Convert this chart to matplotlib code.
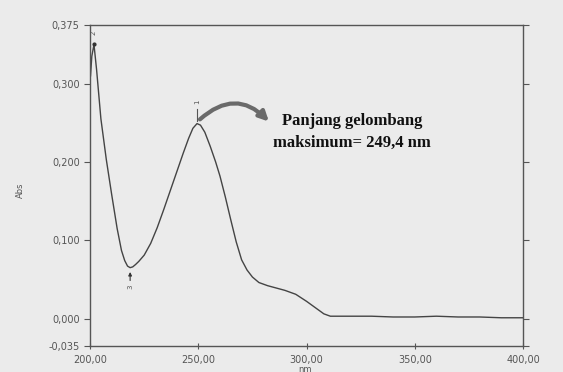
import matplotlib
matplotlib.use("Agg")
import matplotlib.pyplot as plt

# spectrum (nm, Abs)
wavelength = [200.2, 200.8, 201.8, 203, 205, 207.5, 210, 212.5, 214.5, 216, 217.3, 218.5,
              219.7, 221, 222.5, 225, 228, 231, 234, 237, 240, 243, 245.5, 247.5, 249.4,
              251, 253, 255.5, 258, 260, 262.5, 265, 267.5, 270, 272.5, 275,
              278, 282, 286, 290, 295, 300, 303, 305, 308, 311, 315, 320, 330, 340,
              350, 360, 370, 380, 390, 400]
absorb = [0.310, 0.335, 0.350, 0.318, 0.255, 0.203, 0.158, 0.115, 0.087, 0.074, 0.067, 0.065,
          0.066, 0.069, 0.073, 0.081, 0.096, 0.116, 0.139, 0.163, 0.187, 0.211, 0.230, 0.243, 0.249,
          0.247, 0.238, 0.220, 0.200, 0.182, 0.155, 0.126, 0.098, 0.075, 0.062, 0.053,
          0.046, 0.042, 0.039, 0.036, 0.031, 0.022, 0.016, 0.012, 0.006, 0.003, 0.003, 0.003, 0.003, 0.002,
          0.002, 0.003, 0.002, 0.002, 0.001, 0.001]

yticks = [-0.035, 0.0, 0.1, 0.2, 0.3, 0.375]
ytick_labels = ["-0,035", "0,000", "0,100", "0,200", "0,300", "0,375"]
xticks = [200, 250, 300, 350, 400]
xtick_labels = ["200,00", "250,00", "300,00", "350,00", "400,00"]

bg = "#ebebeb"
fig = plt.figure(figsize=(5.63, 3.72), dpi=100, facecolor=bg)
ax = fig.add_axes([0.160, 0.070, 0.769, 0.863], facecolor=bg)

ax.plot(wavelength, absorb, color="#444444", lw=1.0)
ax.set_xlim(200, 400)
ax.set_ylim(-0.035, 0.375)

for sp in ax.spines.values():
    sp.set_color("#555555"); sp.set_linewidth(1.0)
ax.set_yticks(yticks, ytick_labels)
ax.set_xticks(xticks, xtick_labels)
ax.tick_params(axis="y", direction="out", length=4, colors="#555555", labelsize=7, right=True)
ax.tick_params(axis="x", direction="inout", length=5, colors="#555555", labelsize=7, pad=4)

# peak markers 1, 2, 3
ax.plot([249.4, 249.4], [0.252, 0.268], color="#555555", lw=0.8)
ax.text(249.4, 0.274, "1", rotation=90, fontsize=5, color="#555555", ha="center", va="bottom")
ax.plot([201.8], [0.350], marker="o", ms=2, color="#333333")
ax.text(201.8, 0.362, "2", rotation=90, fontsize=5, color="#555555", ha="center", va="bottom")
ax.annotate("", xy=(218.5, 0.063), xytext=(218.5, 0.045),
            arrowprops=dict(arrowstyle="-|>", color="#333333", lw=0.8, mutation_scale=5))
ax.text(218.5, 0.043, "3", rotation=90, fontsize=5, color="#555555", ha="center", va="top")

# curved arrow to the label
ax.annotate("", xy=(283.5, 0.249), xytext=(249.8, 0.252),
            arrowprops=dict(arrowstyle="-|>", color="#6a6a6a", lw=3, mutation_scale=14,
                            connectionstyle="arc3,rad=-0.5"))
fig.text(352 / 563, 1 - 121 / 372, "Panjang gelombang", family="Liberation Serif",
         weight="bold", fontsize=12, ha="center", va="center", color="#111111")
fig.text(352 / 563, 1 - 143 / 372, "maksimum= 249,4 nm", family="Liberation Serif",
         weight="bold", fontsize=12, ha="center", va="center", color="#111111")

fig.text(20 / 563, 1 - 190 / 372, "Abs", rotation=90, fontsize=6, color="#555555",
         ha="center", va="center")
fig.text(305 / 563, 1 - 369 / 372, "nm", fontsize=6, color="#555555", ha="center", va="center")

fig.savefig("out.png", dpi=100, facecolor=bg)
